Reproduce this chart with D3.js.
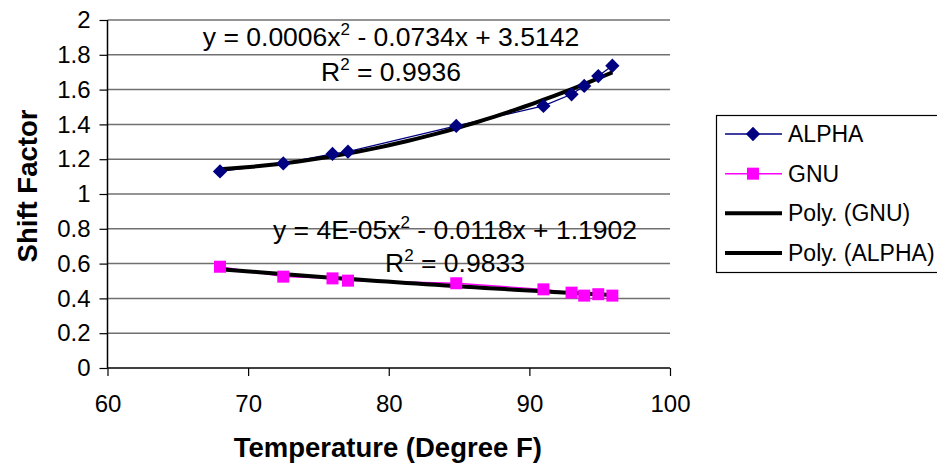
<!DOCTYPE html>
<html><head><meta charset="utf-8">
<script src="https://cdn.jsdelivr.net/npm/d3@7"></script>
<style>
body{margin:0;background:#fff;}
text{font-family:"Liberation Sans",Arial,sans-serif;fill:#000;}
</style></head>
<body><svg id="c" width="937" height="464"></svg>
<script>
const temps = [68, 72.5, 76, 77.1, 84.8, 91, 93, 93.9, 94.9, 95.9];
const alpha = [1.13, 1.176, 1.23, 1.243, 1.391, 1.506, 1.573, 1.621, 1.678, 1.737];
const gnu   = [0.582, 0.525, 0.515, 0.502, 0.487, 0.452, 0.433, 0.416, 0.424, 0.416];
const xTicks = [60, 70, 80, 90, 100];
const yTicks = [0, 0.2, 0.4, 0.6, 0.8, 1, 1.2, 1.4, 1.6, 1.8, 2];
const legendNames = ["ALPHA", "GNU", "Poly. (GNU)", "Poly. (ALPHA)"];

const svg = d3.select("#c");
const L = 107.5, R = 670, T = 20, B = 368;
const x = d3.scaleLinear().domain([60, 100]).range([L, R]);
const y = d3.scaleLinear().domain([0, 2]).range([B, T]);

// gridlines
svg.append("g").selectAll("line").data(yTicks.slice(1)).join("line")
  .attr("x1", L).attr("x2", R).attr("y1", d => y(d)).attr("y2", d => y(d))
  .attr("stroke", "#707070").attr("stroke-width", 1.5);

// axes
const yAxis = svg.append("g").attr("transform", `translate(${L},0)`)
  .call(d3.axisLeft(y).tickValues(yTicks).tickSize(8).tickPadding(9).tickFormat(d3.format("~g")));
const xAxis = svg.append("g").attr("transform", `translate(0,${B})`)
  .call(d3.axisBottom(x).tickValues(xTicks).tickSize(8).tickPadding(19).tickFormat(d3.format("d")));
[yAxis, xAxis].forEach(a => {
  a.select(".domain").attr("stroke", "#000").attr("stroke-width", 1.5);
  a.selectAll(".tick line").attr("stroke", "#000").attr("stroke-width", 1.2);
  a.selectAll("text").attr("font-size", 24).attr("font-family", "Liberation Sans, Arial, sans-serif").attr("fill", "#000");
});
yAxis.select(".domain").attr("d", `M0,${T}V${B}`);
xAxis.select(".domain").attr("d", `M${L},0H${R}`);

// quadratic least squares fit
function polyfit2(xs, ys) {
  const n = xs.length;
  let s = [0,0,0,0,0], t = [0,0,0];
  for (let i = 0; i < n; i++) {
    let p = 1;
    for (let k = 0; k < 5; k++) { s[k] += p; if (k < 3) t[k] += p * ys[i]; p *= xs[i]; }
  }
  const M = [[s[0], s[1], s[2], t[0]], [s[1], s[2], s[3], t[1]], [s[2], s[3], s[4], t[2]]];
  for (let i = 0; i < 3; i++) {
    for (let j = i + 1; j < 3; j++) {
      const f = M[j][i] / M[i][i];
      for (let k = i; k < 4; k++) M[j][k] -= f * M[i][k];
    }
  }
  const c = [0,0,0];
  for (let i = 2; i >= 0; i--) {
    let v = M[i][3];
    for (let k = i + 1; k < 3; k++) v -= M[i][k] * c[k];
    c[i] = v / M[i][i];
  }
  return c;
}

const line = d3.line().x(d => x(d[0])).y(d => y(d[1]));

function drawSeries(vals, color) {
  svg.append("path").datum(temps.map((t, i) => [t, vals[i]]))
    .attr("d", line).attr("fill", "none").attr("stroke", color).attr("stroke-width", 1.3);
}
drawSeries(alpha, "#000080");
drawSeries(gnu, "#FF00FF");

function drawTrend(vals) {
  const c = polyfit2(temps, vals);
  const x0 = d3.min(temps), x1 = d3.max(temps);
  const pts = d3.range(0, 41).map(i => { const t = x0 + (x1 - x0) * i / 40; return [t, c[0] + c[1] * t + c[2] * t * t]; });
  svg.append("path").datum(pts).attr("d", line).attr("fill", "none")
    .attr("stroke", "#000").attr("stroke-width", 4).attr("stroke-linejoin", "round");
}
drawTrend(gnu);
drawTrend(alpha);

// markers
const diamond = d3.symbol().type(d3.symbolDiamond2).size(130);
svg.append("g").selectAll("path").data(temps.map((t, i) => [t, alpha[i]])).join("path")
  .attr("d", diamond).attr("transform", d => `translate(${x(d[0])},${y(d[1])})`)
  .attr("fill", "#000080");
svg.append("g").selectAll("rect").data(temps.map((t, i) => [t, gnu[i]])).join("rect")
  .attr("x", d => x(d[0]) - 6).attr("y", d => y(d[1]) - 6).attr("width", 12).attr("height", 12)
  .attr("fill", "#FF00FF");

// equation labels
function eq(cx, by, parts) {
  const t = svg.append("text").attr("x", cx).attr("y", by).attr("text-anchor", "middle").attr("font-size", 26.5);
  parts.forEach(p => {
    if (p.sup) t.append("tspan").attr("dy", -11).attr("font-size", 17).text(p.s);
    else t.append("tspan").attr("dy", p.after ? 11 : 0).text(p.s);
  });
}
eq(391, 46, [{s: "y = 0.0006x"}, {s: "2", sup: true}, {s: " - 0.0734x + 3.5142", after: true}]);
eq(391, 81, [{s: "R"}, {s: "2", sup: true}, {s: " = 0.9936", after: true}]);
eq(455, 239, [{s: "y = 4E-05x"}, {s: "2", sup: true}, {s: " - 0.0118x + 1.1902", after: true}]);
eq(455, 272, [{s: "R"}, {s: "2", sup: true}, {s: " = 0.9833", after: true}]);

// axis titles
svg.append("text").attr("x", L + (R - L) / 2 - 1).attr("y", 457).attr("text-anchor", "middle")
  .attr("font-size", 27.5).attr("font-weight", "bold").text("Temperature (Degree F)");
svg.append("text").attr("transform", `translate(37,186) rotate(-90)`).attr("text-anchor", "middle")
  .attr("font-size", 27.5).attr("font-weight", "bold").text("Shift Factor");

// legend
const lg = svg.append("g");
lg.append("rect").attr("x", 716.5).attr("y", 115.5).attr("width", 240).attr("height", 157)
  .attr("fill", "#fff").attr("stroke", "#000").attr("stroke-width", 1.2);
const ly = d3.scalePoint().domain(legendNames).range([134, 253]);
legendNames.forEach((n, i) => {
  const yy = ly(n);
  const col = i === 0 ? "#000080" : i === 1 ? "#FF00FF" : "#000";
  lg.append("line").attr("x1", 725).attr("x2", 782).attr("y1", yy).attr("y2", yy)
    .attr("stroke", col).attr("stroke-width", i < 2 ? 1.5 : 4);
  if (i === 0) lg.append("path").attr("d", diamond).attr("transform", `translate(753,${yy})`).attr("fill", "#000080");
  if (i === 1) lg.append("rect").attr("x", 747).attr("y", yy - 6).attr("width", 12).attr("height", 12).attr("fill", "#FF00FF");
  lg.append("text").attr("x", 788).attr("y", yy).attr("dy", "0.35em").attr("font-size", 23).text(n);
});
</script></body></html>
